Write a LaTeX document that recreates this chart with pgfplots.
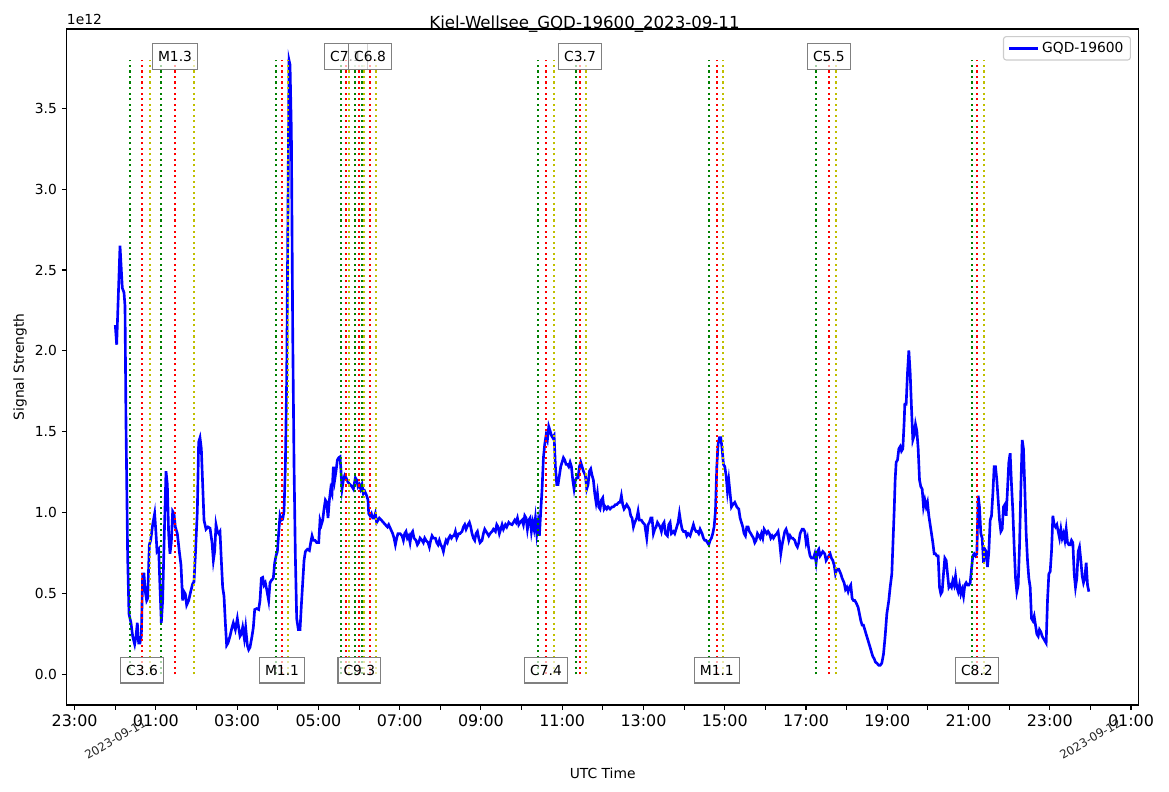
\documentclass[border=0pt]{standalone}
\usepackage{fontspec}
\setmainfont{DejaVu Sans}
\usepackage{pgfplots}
\pgfplotsset{compat=1.18}
\definecolor{mplgreen}{HTML}{008000}
\definecolor{mplred}{HTML}{FF0000}
\definecolor{mplyellow}{HTML}{BFBF00}
\tikzset{
  fl/.style={line width=1.5bp, dash pattern=on 1.5bp off 2.475bp},
  gl/.style={fl, mplgreen},
  rl/.style={fl, mplred},
  yl/.style={fl, mplyellow},
  lbl/.style={draw=gray, line width=1bp, fill=white, fill opacity=0.65, text opacity=1,
    font=\fontsize{10}{12}\selectfont, inner xsep=4bp, inner ysep=0bp, minimum height=18.5bp, anchor=center}
}
\begin{document}
\begin{tikzpicture}
\useasboundingbox (-0.667in,-0.87in) rectangle (11.023in,7.05in);
\begin{axis}[
  at={(0,0)}, anchor=south west,
  scale only axis, width=10.72in, height=6.76in,
  xmin=-1.196, xmax=25.19, ymin=-0.19, ymax=3.99,
  clip mode=individual,
  axis line style={line width=0.8bp},
  every tick/.style={line width=0.8bp, black},
  tick align=outside, xtick pos=bottom, ytick pos=left,
  major tick length=3.5bp, minor tick length=3.5bp,
  xtick={-1,1,3,5,7,9,11,13,15,17,19,21,23,25},
  xticklabels={23:00,01:00,03:00,05:00,07:00,09:00,11:00,13:00,15:00,17:00,19:00,21:00,23:00,01:00},
  minor xtick={0,2,4,6,8,10,12,14,16,18,20,22,24},
  ytick={0,0.5,1,1.5,2,2.5,3,3.5},
  scaled y ticks=false,
  yticklabel style={font=\fontsize{10}{12}\selectfont, /pgf/number format/fixed, /pgf/number format/fixed zerofill, /pgf/number format/precision=1, /pgf/number format/assume math mode=true},
  xticklabel style={font=\fontsize{11.5}{13}\selectfont},
  legend style={at={(0.9928,0.9896)}, anchor=north east, draw=black!20, rounded corners=2bp,
    fill=white, fill opacity=0.8, text opacity=1, font=\fontsize{10}{12}\selectfont,
    inner xsep=3bp, inner ysep=2bp, line width=0.8bp},
  legend image code/.code={\draw[#1] (0bp,0bp) -- (21bp,0bp);},
]
\addplot[blue, line width=1.9bp] coordinates {
(0.000,2.159) (0.034,2.038) (0.116,2.650) (0.173,2.388) (0.214,2.361) (0.239,2.278) (0.263,1.560) (0.304,0.732) (0.337,0.373) (0.386,0.318) (0.428,0.235) (0.477,0.185) (0.510,0.235) (0.542,0.318) (0.575,0.193) (0.607,0.193) (0.641,0.235) (0.674,0.621) (0.706,0.621) (0.739,0.511) (0.772,0.456) (0.797,0.469) (0.838,0.801) (0.871,0.828) (0.920,0.925) (0.969,0.994) (1.002,0.870) (1.027,0.759) (1.068,0.773) (1.100,0.538) (1.133,0.318) (1.166,0.456) (1.207,0.870) (1.248,1.256) (1.281,1.173) (1.313,0.870) (1.346,0.745) (1.379,0.814) (1.412,1.008) (1.445,0.994) (1.478,0.911) (1.527,0.870) (1.576,0.759) (1.617,0.676) (1.658,0.456) (1.691,0.511) (1.724,0.497) (1.757,0.428) (1.806,0.456) (1.855,0.511) (1.905,0.560) (1.937,0.572) (1.970,0.732) (2.019,1.008) (2.052,1.436) (2.085,1.463) (2.118,1.394) (2.151,1.173) (2.184,0.953) (2.233,0.897) (2.282,0.911) (2.332,0.903) (2.381,0.814) (2.414,0.704) (2.446,0.759) (2.479,0.925) (2.512,0.883) (2.545,0.870) (2.577,0.883) (2.610,0.704) (2.643,0.538) (2.676,0.483) (2.709,0.318) (2.741,0.179) (2.774,0.193) (2.823,0.235) (2.873,0.290) (2.905,0.318) (2.955,0.276) (3.004,0.345) (3.045,0.276) (3.070,0.235) (3.102,0.248) (3.135,0.290) (3.176,0.221) (3.209,0.290) (3.250,0.179) (3.283,0.152) (3.315,0.166) (3.365,0.235) (3.398,0.290) (3.431,0.400) (3.480,0.406) (3.529,0.400) (3.562,0.456) (3.595,0.594) (3.628,0.599) (3.661,0.552) (3.693,0.566) (3.726,0.525) (3.775,0.456) (3.808,0.566) (3.841,0.580) (3.890,0.594) (3.923,0.690) (3.956,0.732) (3.989,0.759) (4.021,0.870) (4.054,0.980) (4.087,0.953) (4.120,0.958) (4.153,1.008) (4.186,1.284) (4.219,1.836) (4.252,2.940) (4.277,3.796) (4.301,3.769) (4.334,3.354) (4.367,2.112) (4.400,1.284) (4.432,0.732) (4.465,0.345) (4.506,0.276) (4.547,0.276) (4.580,0.428) (4.613,0.566) (4.646,0.704) (4.679,0.759) (4.728,0.773) (4.777,0.765) (4.810,0.814) (4.843,0.856) (4.876,0.828) (4.917,0.828) (4.958,0.814) (5.007,0.814) (5.039,0.953) (5.072,0.925) (5.105,0.953) (5.138,1.022) (5.171,1.077) (5.204,1.063) (5.236,0.966) (5.269,1.077) (5.302,1.146) (5.335,1.118) (5.368,1.284) (5.400,1.201) (5.433,1.256) (5.466,1.325) (5.499,1.339) (5.532,1.345) (5.548,1.284) (5.581,1.146) (5.614,1.201) (5.647,1.229) (5.680,1.215)
(5.729,1.187) (5.778,1.173) (5.827,1.160) (5.860,1.146) (5.909,1.215) (5.942,1.201) (5.975,1.160) (6.007,1.173) (6.040,1.146) (6.073,1.173) (6.106,1.118) (6.139,1.132) (6.188,1.104) (6.220,1.077) (6.237,0.994) (6.270,0.980) (6.303,0.994) (6.336,0.966) (6.368,0.966) (6.401,0.994) (6.434,0.939) (6.467,0.953) (6.500,0.966) (6.549,0.953) (6.598,0.939) (6.647,0.925) (6.697,0.911) (6.729,0.925) (6.779,0.897) (6.828,0.870) (6.861,0.842) (6.894,0.801) (6.926,0.842) (6.959,0.870) (7.009,0.870) (7.058,0.856) (7.091,0.828) (7.123,0.870) (7.156,0.883) (7.189,0.842) (7.222,0.856) (7.255,0.814) (7.288,0.870) (7.320,0.883) (7.353,0.842) (7.402,0.828) (7.435,0.801) (7.468,0.814) (7.501,0.842) (7.550,0.828) (7.583,0.814) (7.616,0.842) (7.648,0.828) (7.698,0.814) (7.731,0.787) (7.764,0.828) (7.796,0.856) (7.829,0.842) (7.879,0.842) (7.912,0.814) (7.944,0.801) (7.977,0.828) (8.010,0.801) (8.043,0.787) (8.076,0.759) (8.109,0.801) (8.141,0.828) (8.174,0.814) (8.207,0.842) (8.240,0.856) (8.273,0.842) (8.305,0.856) (8.338,0.856) (8.371,0.883) (8.404,0.842) (8.453,0.870) (8.486,0.870) (8.535,0.883) (8.568,0.911) (8.601,0.925) (8.634,0.897) (8.683,0.925) (8.716,0.939) (8.749,0.911) (8.781,0.870) (8.814,0.842) (8.847,0.828) (8.880,0.870) (8.913,0.883) (8.946,0.842) (8.978,0.814) (9.028,0.828) (9.060,0.870) (9.093,0.897) (9.126,0.883) (9.159,0.870) (9.192,0.856) (9.225,0.870) (9.274,0.883) (9.307,0.897) (9.356,0.883) (9.389,0.925) (9.422,0.911) (9.454,0.870) (9.487,0.897) (9.520,0.925) (9.553,0.897) (9.602,0.925) (9.635,0.911) (9.684,0.939) (9.717,0.930) (9.766,0.925) (9.799,0.939) (9.832,0.953) (9.865,0.939) (9.898,0.966) (9.930,0.925) (9.963,0.939) (10.012,0.953) (10.045,0.925) (10.078,0.980) (10.111,0.966) (10.144,0.897) (10.177,0.953) (10.209,0.966) (10.242,0.883) (10.275,0.939) (10.308,0.897) (10.341,0.966) (10.374,0.870) (10.406,0.939) (10.439,0.856) (10.472,1.008) (10.505,1.146) (10.538,1.339) (10.570,1.422) (10.603,1.477) (10.636,1.449) (10.669,1.532) (10.702,1.505) (10.734,1.477) (10.767,1.463) (10.800,1.477) (10.833,1.284) (10.866,1.173) (10.898,1.173) (10.931,1.229) (10.964,1.284) (10.997,1.311) (11.030,1.339) (11.063,1.325) (11.095,1.298) (11.128,1.298) (11.161,1.284) (11.194,1.311) (11.227,1.284) (11.260,1.201) (11.292,1.146) (11.325,1.201) (11.358,1.215) (11.391,1.215) (11.424,1.284) (11.456,1.311) (11.489,1.284) (11.522,1.256) (11.571,1.229) (11.604,1.146) (11.637,1.173) (11.670,1.256) (11.703,1.270) (11.736,1.229) (11.768,1.201) (11.801,1.118) (11.834,1.063) (11.867,1.118) (11.900,1.035)
(11.932,1.022) (11.965,1.077) (11.998,1.091) (12.031,1.022) (12.064,1.035) (12.097,1.022) (12.129,1.035) (12.179,1.022) (12.228,1.035) (12.261,1.035) (12.310,1.049) (12.343,1.049) (12.392,1.063) (12.425,1.063) (12.457,1.104) (12.490,1.049) (12.523,1.022) (12.556,1.035) (12.589,1.049) (12.622,1.035) (12.654,1.022) (12.687,0.980) (12.720,0.966) (12.753,0.911) (12.786,0.939) (12.835,0.966) (12.868,1.008) (12.900,0.953) (12.950,0.953) (12.983,0.939) (13.032,0.925) (13.081,0.842) (13.114,0.925) (13.147,0.939) (13.180,0.966) (13.212,0.966) (13.245,0.870) (13.278,0.897) (13.311,0.911) (13.344,0.939) (13.377,0.925) (13.409,0.911) (13.442,0.883) (13.475,0.925) (13.508,0.939) (13.541,0.870) (13.590,0.856) (13.623,0.925) (13.656,0.939) (13.688,0.870) (13.738,0.883) (13.770,0.870) (13.820,0.911) (13.853,0.939) (13.885,0.994) (13.918,0.939) (13.951,0.897) (13.984,0.883) (14.033,0.883) (14.066,0.856) (14.099,0.870) (14.148,0.856) (14.197,0.897) (14.230,0.925) (14.263,0.897) (14.296,0.883) (14.329,0.883) (14.361,0.870) (14.394,0.897) (14.443,0.870) (14.476,0.842) (14.509,0.828) (14.542,0.828) (14.575,0.814) (14.608,0.801) (14.640,0.828) (14.673,0.842) (14.706,0.870) (14.739,0.911) (14.772,1.008) (14.805,1.284) (14.837,1.422) (14.870,1.463) (14.903,1.463) (14.936,1.394) (14.969,1.298) (15.002,1.284) (15.034,1.229) (15.067,1.132) (15.100,1.201) (15.133,1.118) (15.166,1.035) (15.198,1.049) (15.248,1.063) (15.297,1.035) (15.346,1.022) (15.379,0.966) (15.412,0.939) (15.445,0.911) (15.477,0.870) (15.510,0.856) (15.543,0.911) (15.576,0.911) (15.609,0.883) (15.642,0.870) (15.674,0.856) (15.707,0.842) (15.740,0.814) (15.773,0.828) (15.806,0.870) (15.839,0.856) (15.871,0.842) (15.904,0.870) (15.937,0.842) (15.970,0.897) (16.003,0.883) (16.035,0.870) (16.068,0.883) (16.101,0.870) (16.134,0.842) (16.167,0.856) (16.200,0.842) (16.232,0.856) (16.282,0.870) (16.314,0.883) (16.347,0.828) (16.380,0.745) (16.413,0.801) (16.446,0.842) (16.479,0.883) (16.511,0.897) (16.544,0.870) (16.577,0.828) (16.610,0.856) (16.643,0.842) (16.675,0.842) (16.725,0.828) (16.757,0.801) (16.790,0.787) (16.823,0.814) (16.856,0.870) (16.905,0.897) (16.938,0.897) (16.971,0.883) (17.004,0.814) (17.036,0.842) (17.069,0.773) (17.102,0.732) (17.135,0.718) (17.184,0.718) (17.217,0.745) (17.250,0.690) (17.283,0.759) (17.316,0.773) (17.348,0.732) (17.381,0.745) (17.414,0.759) (17.463,0.745) (17.496,0.704) (17.529,0.718) (17.562,0.732) (17.595,0.745) (17.627,0.718) (17.660,0.704) (17.693,0.676) (17.726,0.621) (17.759,0.649) (17.808,0.649) (17.857,0.621) (17.890,0.594) (17.939,0.566) (17.972,0.525) (18.005,0.538) (18.038,0.511) (18.071,0.538) (18.103,0.552) (18.136,0.469) (18.169,0.456) (18.202,0.456) (18.235,0.442) (18.284,0.414) (18.317,0.373) (18.350,0.331) (18.383,0.304) (18.415,0.304) (18.448,0.276) (18.481,0.248) (18.514,0.221) (18.547,0.193) (18.580,0.166) (18.612,0.138) (18.645,0.110) (18.678,0.097) (18.711,0.075) (18.744,0.069) (18.793,0.055) (18.826,0.055)
(18.867,0.069) (18.908,0.124) (18.949,0.235) (18.990,0.373) (19.039,0.456) (19.072,0.538) (19.113,0.621) (19.138,0.787) (19.171,1.008) (19.195,1.201) (19.220,1.311) (19.253,1.325) (19.286,1.394) (19.319,1.408) (19.351,1.380) (19.384,1.394) (19.417,1.560) (19.433,1.670) (19.466,1.670) (19.499,1.864) (19.532,2.002) (19.565,1.864) (19.598,1.643) (19.630,1.449) (19.663,1.477) (19.696,1.546) (19.729,1.505) (19.762,1.394) (19.795,1.201) (19.827,1.160) (19.860,1.146) (19.893,1.035) (19.926,1.077) (19.959,1.035) (19.991,1.063) (20.024,0.980) (20.057,0.925) (20.090,0.870) (20.123,0.814) (20.156,0.745) (20.188,0.745) (20.221,0.732) (20.254,0.732) (20.287,0.538) (20.320,0.497) (20.352,0.511) (20.385,0.621) (20.418,0.718) (20.451,0.704) (20.484,0.621) (20.517,0.538) (20.549,0.552) (20.582,0.538) (20.615,0.580) (20.648,0.552) (20.681,0.607) (20.713,0.538) (20.746,0.511) (20.779,0.552) (20.812,0.497) (20.845,0.525) (20.878,0.483) (20.910,0.552) (20.943,0.566) (20.976,0.552) (21.009,0.552) (21.042,0.566) (21.074,0.649) (21.107,0.732) (21.140,0.745) (21.173,0.732) (21.206,0.745) (21.239,1.104) (21.271,1.035) (21.304,0.870) (21.337,0.842) (21.370,0.690) (21.403,0.773) (21.435,0.759) (21.468,0.663) (21.501,0.759) (21.534,0.953) (21.567,0.980) (21.600,1.118) (21.632,1.284) (21.665,1.284) (21.698,1.201) (21.731,1.077) (21.764,0.953) (21.797,0.883) (21.829,0.897) (21.862,1.035) (21.895,1.049) (21.928,0.980) (21.961,1.146) (21.993,1.311) (22.026,1.367) (22.059,1.173) (22.092,1.008) (22.125,0.787) (22.158,0.594) (22.190,0.511) (22.223,0.552) (22.256,0.787) (22.289,1.146) (22.322,1.449) (22.354,1.394) (22.387,1.146) (22.420,0.870) (22.453,0.704) (22.486,0.594) (22.519,0.538) (22.551,0.345) (22.584,0.331) (22.617,0.359) (22.650,0.304) (22.683,0.248) (22.716,0.235) (22.748,0.276) (22.781,0.262) (22.814,0.235) (22.847,0.221) (22.880,0.207) (22.912,0.193) (22.945,0.456) (22.978,0.621) (23.011,0.635) (23.044,0.759) (23.077,0.980) (23.109,0.925) (23.142,0.911) (23.175,0.925) (23.208,0.883) (23.241,0.842) (23.274,0.897) (23.306,0.842) (23.339,0.870) (23.372,0.828) (23.405,0.897) (23.438,0.814) (23.470,0.801) (23.503,0.801) (23.536,0.828) (23.569,0.814) (23.602,0.621) (23.634,0.538) (23.667,0.594) (23.700,0.759) (23.733,0.787) (23.766,0.704) (23.799,0.607) (23.831,0.566) (23.864,0.594) (23.897,0.690) (23.930,0.552) (23.963,0.511)
};
\addlegendentry{GQD-19600}
% flare lines: start (green), peak (red), end (yellow)
\addplot[gl, forget plot] coordinates {(0.362,0) (0.362,3.8)};
\addplot[rl, forget plot] coordinates {(0.657,0) (0.657,3.8)};
\addplot[yl, forget plot] coordinates {(0.854,0) (0.854,3.8)};
\addplot[gl, forget plot] coordinates {(1.125,0) (1.125,3.8)};
\addplot[rl, forget plot] coordinates {(1.470,0) (1.470,3.8)};
\addplot[yl, forget plot] coordinates {(1.937,0) (1.937,3.8)};
\addplot[gl, forget plot] coordinates {(3.956,0) (3.956,3.8)};
\addplot[rl, forget plot] coordinates {(4.104,0) (4.104,3.8)};
\addplot[yl, forget plot] coordinates {(4.252,0) (4.252,3.8)};
\addplot[gl, forget plot] coordinates {(5.549,0) (5.549,3.8)};
\addplot[rl, forget plot] coordinates {(5.680,0) (5.680,3.8)};
\addplot[yl, forget plot] coordinates {(5.748,0) (5.748,3.8)};
\addplot[gl, forget plot] coordinates {(5.896,0) (5.896,3.8)};
\addplot[rl, forget plot] coordinates {(6.007,0) (6.007,3.8)};
\addplot[yl, forget plot] coordinates {(6.123,0) (6.123,3.8)};
\addplot[gl, forget plot] coordinates {(6.073,0) (6.073,3.8)};
\addplot[rl, forget plot] coordinates {(6.270,0) (6.270,3.8)};
\addplot[yl, forget plot] coordinates {(6.406,0) (6.406,3.8)};
\addplot[gl, forget plot] coordinates {(10.399,0) (10.399,3.8)};
\addplot[rl, forget plot] coordinates {(10.603,0) (10.603,3.8)};
\addplot[yl, forget plot] coordinates {(10.800,0) (10.800,3.8)};
\addplot[gl, forget plot] coordinates {(11.342,0) (11.342,3.8)};
\addplot[rl, forget plot] coordinates {(11.440,0) (11.440,3.8)};
\addplot[yl, forget plot] coordinates {(11.588,0) (11.588,3.8)};
\addplot[gl, forget plot] coordinates {(14.616,0) (14.616,3.8)};
\addplot[rl, forget plot] coordinates {(14.805,0) (14.805,3.8)};
\addplot[yl, forget plot] coordinates {(14.953,0) (14.953,3.8)};
\addplot[gl, forget plot] coordinates {(17.250,0) (17.250,3.8)};
\addplot[rl, forget plot] coordinates {(17.563,0) (17.563,3.8)};
\addplot[yl, forget plot] coordinates {(17.743,0) (17.743,3.8)};
\addplot[gl, forget plot] coordinates {(21.091,0) (21.091,3.8)};
\addplot[rl, forget plot] coordinates {(21.207,0) (21.207,3.8)};
\addplot[yl, forget plot] coordinates {(21.386,0) (21.386,3.8)};
% flare class labels
\node[lbl] at (axis cs:0.657,0.025) {C3.6};
\node[lbl] at (axis cs:1.470,3.82) {M1.3};
\node[lbl] at (axis cs:4.104,0.025) {M1.1};
\node[lbl] at (axis cs:5.680,3.82) {C7.1};
\node[lbl] at (axis cs:6.007,0.025) {C9.3};
\node[lbl] at (axis cs:6.270,3.82) {C6.8};
\node[lbl] at (axis cs:10.603,0.025) {C7.4};
\node[lbl] at (axis cs:11.440,3.82) {C3.7};
\node[lbl] at (axis cs:14.805,0.025) {M1.1};
\node[lbl] at (axis cs:17.563,3.82) {C5.5};
\node[lbl] at (axis cs:21.207,0.025) {C8.2};
% texts outside the axis box
\node[anchor=base west, font=\fontsize{10}{12}\selectfont, inner sep=0pt] at ([yshift=2.9bp]rel axis cs:0,1) {1e12};
\node[anchor=base, font=\fontsize{12}{14}\selectfont, inner sep=0pt] at ([xshift=5.178in, yshift=0.7bp]rel axis cs:0,1) {Kiel-Wellsee\_GQD-19600\_2023-09-11};
\node[font=\fontsize{10}{12}\selectfont, inner sep=0pt] at ([yshift=-0.68in]rel axis cs:0.5,0) {UTC Time};
\node[rotate=90, font=\fontsize{10}{12}\selectfont, inner sep=0pt] at ([xshift=-0.467in]rel axis cs:0,0.5) {Signal Strength};
\node[rotate=30, font=\fontsize{8.5}{10}\selectfont, inner sep=0pt, text=black!85] at ([yshift=-0.34in]axis cs:0,-0.19) {2023-09-11};
\node[rotate=30, font=\fontsize{8.5}{10}\selectfont, inner sep=0pt, text=black!85] at ([yshift=-0.34in]axis cs:24,-0.19) {2023-09-12};
\end{axis}
\end{tikzpicture}
\end{document}
